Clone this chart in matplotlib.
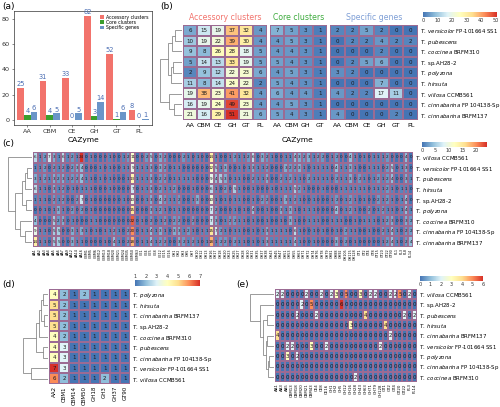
import numpy as np
import matplotlib
matplotlib.use("Agg")
import matplotlib.pyplot as plt
from matplotlib.colors import LinearSegmentedColormap, Normalize
import matplotlib.cm as cm

W, H = 500, 407
fig = plt.figure(figsize=(5, 4.07), dpi=100)

def rect(x0, y0, x1, y1):
    return [x0 / W, 1 - y1 / H, (x1 - x0) / W, (y1 - y0) / H]

def ftxt(x, y, s, **kw):
    fig.text(x / W, 1 - y / H, s, **kw)

cmap = LinearSegmentedColormap.from_list(
    "ph", ["#4575B4", "#91BFDB", "#E0F3F8", "#FFFFBF", "#FEE090", "#FC8D59", "#D73027"])
BORDER = "#9b6b93"
DCOL = "#8a8a8a"
LFS = 3.85

def italic_name(s):
    parts = s.split(" ")
    if parts[1].startswith("sp."):
        return r"$\mathit{T.}$ " + " ".join(parts[1:])
    rest = " ".join(parts[2:])
    lab = r"$\mathit{T.\ " + parts[1] + "}$"
    return lab + (" " + rest if rest else "")

# ---------------- panel (a) data ----------------
cats_a = ["AA", "CBM", "CE", "GH", "GT", "PL"]
accessory = [25, 31, 33, 82, 52, 8]
core = [4, 4, 0, 3, 1, 0]
specific = [6, 5, 5, 14, 6, 1]

# ---------------- panel (b) data ----------------
rows_b = ["T. versicolor FP-101664 SS1", "T. pubescens", "T. coccinea BRFM310",
          "T. sp.AH28-2", "T. polyzona", "T. hirsuta", "T. villosa CCMB561",
          "T. cinnabarina FP 104138-Sp", "T. cinnabarina BRFM137"]
cols_acc = ["AA", "CBM", "CE", "GH", "GT", "PL"]
cols_core = ["AA", "CBM", "GH", "GT"]
cols_spec = ["AA", "CBM", "CE", "GH", "GT", "PL"]
b_acc = [[6, 15, 19, 37, 32, 4], [10, 19, 22, 39, 30, 4], [9, 8, 26, 28, 18, 5],
         [5, 14, 13, 33, 19, 5], [2, 9, 12, 22, 23, 6], [11, 8, 14, 24, 22, 2],
         [19, 38, 23, 41, 32, 4], [16, 19, 24, 49, 23, 4], [21, 16, 29, 51, 21, 6]]
b_core = [[7, 5, 3, 1], [4, 5, 3, 1], [4, 4, 3, 1], [5, 4, 3, 1], [4, 5, 3, 1],
          [5, 4, 3, 1], [6, 4, 4, 1], [4, 5, 3, 1], [5, 4, 3, 1]]
b_spec = [[2, 2, 5, 2, 0, 0], [0, 2, 2, 4, 2, 2], [0, 0, 0, 2, 0, 0], [0, 2, 5, 6, 0, 0],
          [3, 2, 0, 0, 0, 0], [0, 0, 0, 7, 0, 0], [4, 2, 2, 17, 11, 0],
          [0, 0, 0, 0, 0, 0], [4, 0, 0, 0, 2, 0]]
tree_b = [(0, 1, 0.30), (9, 2, 0.45), (3, 4, 0.40), (11, 5, 0.50), (10, 12, 0.65),
          (7, 8, 0.35), (6, 14, 0.60), (13, 15, 1.00)]

# ---------------- panel (c) data ----------------
rows_c = ["T. villosa CCMB561", "T. versicolor FP-101664 SS1", "T. pubescens",
          "T. hirsuta", "T. sp.AH28-2", "T. polyzona", "T. coccinea BRFM310",
          "T. cinnabarina FP 104138-Sp", "T. cinnabarina BRFM137"]
cols_c = ["AA1", "AA2", "AA3", "AA4", "AA5", "AA6", "AA7", "AA9", "AA12", "AA14", "AA16",
          "CBM1", "CBM5", "CBM6", "CBM12", "CBM13", "CBM18", "CBM20", "CBM21", "CBM24",
          "CBM35", "CBM50", "CBM63", "CE1", "CE4", "CE5", "CE8", "CE12", "CE15", "CE16",
          "GH1", "GH2", "GH3", "GH5", "GH7", "GH10", "GH12", "GH13", "GH16", "GH17",
          "GH18", "GH20", "GH23", "GH25", "GH27", "GH28", "GH30", "GH31", "GH35", "GH37",
          "GH38", "GH43", "GH45", "GH47", "GH51", "GH53", "GH55", "GH63", "GH71", "GH72",
          "GH74", "GH76", "GH78", "GH79", "GH81", "GH88", "GH92", "GH105", "GH115", "GH128",
          "GT1", "GT2", "GT4", "GT8", "GT15", "GT20", "GT22", "GT90", "PL1", "PL3", "PL8", "PL14"]
c_villosa = [6, 1, 2, 7, 3, 1, 6, 1, 2, 1, 24, 0, 1, 0, 0, 0, 1, 0, 0, 1, 2, 11,
             0, 0, 2, 5, 0, 3, 2, 0, 0, 0, 2, 1, 0, 1, 0, 0, 14,
             1, 0, 0, 1, 2, 1, 1, 2, 6, 0, 3, 2, 1, 0, 0, 1, 1, 4, 3, 2, 3, 1, 2, 2, 0, 1, 2,
             0, 0, 4, 1, 0, 1, 0, 1, 1, 1, 2, 0, 0, 0, 4, 0]
c_versicolor = [1, 1, 2, 0, 2, 1, 2, 0, 2, 3, 4, 0, 0, 0, 1, 0, 1, 0, 0, 1, 1, 9,
                1, 1, 1, 3, 0, 3, 2, 0, 1, 1, 0, 0, 0, 0, 0, 0, 12,
                5, 1, 3, 0, 0, 1, 0, 1, 3, 1, 1, 2, 0, 0, 0, 3, 2, 2, 3, 1, 0, 1, 1, 1, 1, 0,
                4, 1, 1, 3, 1, 0, 0, 1, 1, 1, 0, 2, 5, 0, 1, 3, 0]
c_pubescens = [3, 1, 2, 1, 3, 2, 3, 1, 2, 2, 4, 1, 1, 0, 1, 0, 1, 0, 0, 0, 1, 13,
               1, 1, 1, 3, 0, 2, 2, 0, 1, 1, 1, 1, 1, 0, 0, 0, 9,
               4, 5, 3, 0, 1, 1, 0, 0, 2, 1, 1, 3, 0, 0, 2, 1, 2, 1, 1, 0, 2, 1, 1, 1, 1, 0,
               2, 1, 1, 3, 0, 2, 1, 0, 1, 2, 1, 2, 4, 0, 0, 3, 1]
c_hirsuta = [6, 1, 1, 0, 3, 1, 2, 0, 1, 0, 1, 1, 1, 0, 0, 0, 1, 0, 0, 0, 0, 7,
             0, 1, 1, 3, 0, 2, 1, 1, 2, 0, 0, 0, 1, 0, 0, 0, 6,
             1, 0, 2, 0, 5, 1, 0, 0, 1, 0, 0, 0, 1, 0, 1, 1, 1, 5, 2, 1, 0, 0, 0, 1, 0, 0,
             0, 1, 1, 1, 1, 1, 1, 0, 1, 1, 1, 2, 1, 0, 1, 1, 0]
c_sp = [1, 1, 1, 0, 2, 1, 2, 0, 0, 2, 7, 0, 1, 0, 0, 0, 0, 0, 0, 1, 0, 10,
        0, 0, 1, 3, 0, 4, 2, 1, 1, 2, 0, 0, 1, 3, 0, 0, 10,
        1, 0, 1, 0, 1, 1, 0, 0, 1, 0, 2, 2, 0, 0, 1, 3, 1, 2, 1, 0, 0, 1, 0, 0, 0, 1,
        2, 0, 1, 2, 1, 0, 1, 0, 0, 2, 1, 2, 1, 0, 1, 4, 0]
c_polyzona = [0, 0, 1, 0, 1, 3, 1, 0, 2, 0, 2, 0, 1, 0, 0, 0, 0, 0, 0, 0, 0, 15,
              0, 0, 0, 3, 1, 2, 1, 0, 1, 1, 0, 0, 0, 0, 0, 0, 7,
              2, 0, 0, 0, 1, 0, 1, 0, 4, 0, 0, 1, 0, 0, 3, 1, 3, 1, 0, 1, 1, 1, 0, 0, 0, 0,
              4, 0, 1, 2, 1, 0, 0, 2, 0, 1, 2, 1, 1, 0, 1, 4, 1]
c_coccinea = [4, 0, 0, 0, 5, 2, 3, 0, 1, 0, 0, 0, 1, 1, 0, 0, 0, 0, 0, 0, 0, 22,
              0, 1, 0, 2, 0, 1, 2, 0, 2, 2, 0, 0, 2, 0, 0, 0, 7,
              3, 0, 1, 2, 2, 1, 1, 0, 1, 0, 0, 1, 0, 0, 1, 0, 3, 1, 0, 0, 1, 1, 1, 0, 0, 1,
              1, 1, 0, 0, 1, 0, 1, 1, 1, 0, 1, 2, 3, 0, 0, 3, 2]
c_cinnFP = [9, 1, 1, 0, 5, 5, 0, 0, 3, 1, 3, 1, 0, 1, 0, 1, 1, 2, 1, 0, 2, 20,
            0, 1, 1, 4, 1, 3, 1, 0, 3, 3, 1, 2, 1, 0, 1, 1, 15,
            7, 2, 1, 0, 1, 1, 0, 0, 1, 0, 1, 3, 1, 1, 1, 1, 0, 6, 1, 0, 0, 1, 0, 1, 0, 0,
            1, 0, 2, 1, 1, 0, 0, 1, 0, 0, 2, 1, 4, 1, 0, 2, 2]
c_cinnBRFM = [14, 1, 1, 0, 5, 5, 0, 0, 3, 1, 1, 0, 0, 0, 0, 1, 0, 4, 1, 0, 2, 18,
              0, 1, 1, 4, 1, 2, 2, 0, 0, 3, 2, 1, 2, 1, 0, 1, 18,
              1, 2, 2, 0, 2, 1, 1, 0, 1, 0, 1, 3, 1, 1, 1, 1, 1, 4, 1, 0, 0, 1, 0, 0, 0, 0,
              3, 0, 2, 0, 1, 0, 0, 0, 0, 0, 1, 2, 4, 1, 0, 2, 4]
tree_c = [(1, 2, 0.20), (9, 3, 0.30), (4, 5, 0.25), (10, 11, 0.40), (7, 8, 0.30),
          (6, 13, 0.50), (12, 14, 0.70), (0, 15, 1.00)]

# ---------------- panel (d) data ----------------
rows_d = ["T. polyzona", "T. hirsuta", "T. cinnabarina BRFM137", "T. sp.AH28-2",
          "T. coccinea BRFM310", "T. pubescens", "T. cinnabarina FP 104138-Sp",
          "T. versicolor FP-101664 SS1", "T. villosa CCMB561"]
cols_d = ["AA2", "CBM1", "CBM14", "CBM50", "GH18", "GH3", "GH37", "GT90"]
d_vals = [[4, 2, 1, 2, 1, 1, 1, 1], [5, 2, 1, 1, 1, 1, 1, 1], [5, 2, 1, 1, 1, 1, 1, 1],
          [5, 2, 1, 1, 1, 1, 1, 1], [4, 2, 1, 1, 1, 1, 1, 1], [4, 3, 1, 1, 1, 1, 1, 1],
          [4, 3, 1, 1, 1, 1, 1, 1], [7, 3, 1, 1, 1, 1, 1, 1], [6, 2, 1, 1, 1, 2, 1, 1]]
tree_d = [(0, 1, 0.20), (2, 3, 0.15), (9, 10, 0.30), (11, 4, 0.35), (5, 6, 0.20),
          (12, 13, 0.50), (7, 8, 0.70), (14, 15, 1.00)]

# ---------------- panel (e) data ----------------
rows_e = ["T. villosa CCMB561", "T. sp.AH28-2", "T. pubescens", "T. hirsuta",
          "T. cinnabarina BRFM137", "T. versicolor FP-101664 SS1", "T. polyzona",
          "T. cinnabarina FP 104138-Sp", "T. coccinea BRFM310"]
cols_e = ["AA1", "AA3", "AA5", "CBM13", "CBM18", "CBM20", "CBM21", "CBM43", "CE4",
          "CE8", "CE16", "GH1", "GH2", "GH5", "GH12", "GH16", "GH28", "GH43", "GH63",
          "GH71", "GH79", "GH128", "GT1", "GT2", "GT4", "GT20", "GT22", "PL3", "PL14"]
e_villosa = [2, 2, 0, 0, 0, 0, 2, 0, 0, 2, 0, 2, 3, 0, 5, 0, 0, 3, 0, 2, 2, 0, 0, 2, 2, 5, 0, 2, 0]
e_sp = [0, 0, 0, 0, 0, 2, 0, 5, 0, 0, 0, 0, 0, 6, 0, 0, 0, 0, 0, 0, 0, 0, 0, 0, 0, 0, 0, 0, 0]
e_pubescens = [0, 0, 0, 0, 2, 0, 0, 0, 2, 0, 0, 0, 0, 0, 0, 0, 0, 0, 4, 0, 0, 0, 0, 0, 0, 0, 2, 0, 2]
e_hirsuta = [0, 0, 0, 0, 0, 0, 0, 0, 0, 0, 0, 0, 0, 0, 0, 3, 0, 0, 0, 0, 0, 0, 4, 0, 0, 0, 0, 0, 0]
e_cinnBRFM = [4, 0, 0, 0, 0, 0, 0, 0, 0, 0, 0, 0, 0, 0, 0, 0, 0, 0, 0, 0, 0, 0, 0, 2, 0, 0, 0, 0, 0]
e_versicolor = [0, 0, 2, 2, 0, 0, 0, 3, 0, 0, 2, 0, 0, 0, 0, 0, 0, 0, 0, 0, 0, 2, 0, 0, 0, 0, 0, 0, 0]
e_polyzona = [0, 0, 3, 0, 2, 0, 0, 0, 0, 0, 0, 0, 0, 0, 0, 0, 0, 0, 0, 0, 0, 0, 0, 0, 0, 0, 0, 0, 0]
e_cinnFP = [0] * 29
e_coccinea = [0, 0, 0, 0, 0, 0, 0, 0, 0, 0, 0, 0, 0, 0, 0, 0, 2, 0, 0, 0, 0, 0, 0, 0, 0, 0, 0, 0, 0]
tree_e = [(2, 3, 0.30), (4, 5, 0.30), (6, 7, 0.20), (11, 8, 0.25), (10, 12, 0.35),
          (9, 13, 0.45), (1, 14, 0.60), (0, 15, 1.00)]


# ---------------- helpers ----------------
def heat(ax, M, vmin, vmax, fs):
    M = np.asarray(M)
    nr, nc = M.shape
    ax.pcolormesh(np.arange(nc + 1), np.arange(nr + 1), M, cmap=cmap, vmin=vmin, vmax=vmax,
                  edgecolor=BORDER, linewidth=0.3)
    ax.set_xlim(0, nc)
    ax.set_ylim(nr, 0)
    for i in range(nr):
        for j in range(nc):
            ax.text(j + 0.5, i + 0.52, str(M[i, j]), ha="center", va="center",
                    fontsize=fs, color="#1a1a1a")
    ax.set_xticks([])
    ax.set_yticks([])
    for s in ax.spines.values():
        s.set_visible(False)


def dendro(ax, merges, n):
    pos = {i: (i + 0.5, 0.0) for i in range(n)}
    hmax = 0
    for k, (a, b, h) in enumerate(merges):
        ya, ha = pos[a]
        yb, hb = pos[b]
        ax.plot([ha, h, h, hb], [ya, ya, yb, yb], color=DCOL, lw=0.6,
                solid_joinstyle="miter")
        pos[n + k] = ((ya + yb) / 2, h)
        hmax = max(hmax, h)
    ax.set_ylim(n, 0)
    ax.set_xlim(hmax * 1.0, 0)
    ax.axis("off")


def cbar(x0, y0, x1, y1, vmin, vmax, ticks, labels_above=False):
    cax = fig.add_axes(rect(x0, y0, x1, y1))
    sm = cm.ScalarMappable(norm=Normalize(vmin, vmax), cmap=cmap)
    cb = fig.colorbar(sm, cax=cax, orientation="horizontal")
    cb.outline.set_visible(False)
    cb.set_ticks(ticks)
    cax.tick_params(length=0, labelsize=3.6, pad=1, colors="#333333")
    if labels_above:
        cax.xaxis.set_ticks_position("top")
    return cax


def row_labels(ax, names, fs):
    ax.set_yticks(np.arange(len(names)) + 0.5)
    ax.set_yticklabels([italic_name(s) for s in names], fontsize=fs)
    ax.yaxis.tick_right()
    ax.tick_params(axis="y", length=0, pad=1.5)


# ---------------- panel (a) ----------------
axa = fig.add_axes(rect(14, 11, 152, 125))
xa = np.arange(len(cats_a))
bw = 0.3
colors_a = ["#F2736C", "#3A9E2E", "#6A95C8"]
for off, vals, col, lab in [(-bw, accessory, colors_a[0], "Accessory clusters"),
                            (0, core, colors_a[1], "Core clusters"),
                            (bw, specific, colors_a[2], "Specific genes")]:
    axa.bar(xa + off, vals, width=bw, color=col, label=lab)
    for xi, v in zip(xa + off, vals):
        axa.text(xi, v + 0.6, str(v), ha="center", va="bottom", fontsize=4.8, color="#4A6DB3")
axa.set_xlim(-0.6, len(cats_a) - 0.4)
axa.set_ylim(-4.1, 86.1)
axa.set_xticks(xa)
axa.set_xticklabels(cats_a, fontsize=4.6)
axa.set_yticks([0, 20, 40, 60, 80])
axa.tick_params(labelsize=4.6, length=1.5, width=0.4, pad=1.5, colors="#333333")
axa.set_xlabel("CAZyme", fontsize=5.4, labelpad=2)
for s in axa.spines.values():
    s.set_linewidth(0.5)
    s.set_color("#333333")
axa.legend(loc="upper right", fontsize=3.3, frameon=False, handlelength=0.9, handleheight=0.9,
           borderaxespad=0.4, labelspacing=0.05, handletextpad=0.3)
ftxt(2, 2, "(a)", fontsize=6.5, va="top")

# ---------------- panel (b) ----------------
ftxt(160, 2, "(b)", fontsize=6.5, va="top")
bx = [(183, 267, b_acc, cols_acc, "Accessory clusters", "#F2736C"),
      (270, 327, b_core, cols_core, "Core clusters", "#3DAA3D"),
      (330, 418, b_spec, cols_spec, "Specific genes", "#7F9FD6")]
for i, (x0, x1, M, cl, title, tc) in enumerate(bx):
    ax = fig.add_axes(rect(x0, 25, x1, 120))
    heat(ax, M, 0, 51, 4.0)
    ax.set_xticks(np.arange(len(cl)) + 0.5)
    ax.set_xticklabels(cl, fontsize=4.6)
    ax.tick_params(axis="x", length=0, pad=2)
    ftxt((x0 + x1) / 2, 18, title, fontsize=5.6, color=tc, ha="center", va="center")
    if i == 2:
        row_labels(ax, rows_b, LFS)
ftxt(298, 140, "CAZyme", fontsize=5.4, ha="center", va="center")
axd = fig.add_axes(rect(160, 25, 182, 120))
dendro(axd, tree_b, 9)
cbar(423, 12, 497, 17, 0, 51, [0, 10, 20, 30, 40, 50])

# ---------------- panel (c) ----------------
ftxt(2, 139, "(c)", fontsize=6.5, va="top")
Mc = [c_villosa, c_versicolor, c_pubescens, c_hirsuta, c_sp, c_polyzona, c_coccinea,
      c_cinnFP, c_cinnBRFM]
axc = fig.add_axes(rect(33, 152, 413, 247))
heat(axc, Mc, 0, 24, 3.0)
axc.set_xticks(np.arange(len(cols_c)) + 0.5)
axc.set_xticklabels(cols_c, fontsize=2.4, rotation=90)
axc.tick_params(axis="x", length=0, pad=1)
row_labels(axc, rows_c, LFS)
axcd = fig.add_axes(rect(8, 152, 32, 247))
dendro(axcd, tree_c, 9)
cbar(422, 142, 487, 147, 0, 24, [0, 5, 10, 15, 20])

# ---------------- panel (d) ----------------
ftxt(2, 280, "(d)", fontsize=6.5, va="top")
axh = fig.add_axes(rect(49, 289, 130, 384))
heat(axh, d_vals, 1, 7, 4.0)
axh.set_xticks(np.arange(len(cols_d)) + 0.5)
axh.set_xticklabels(cols_d, fontsize=4.0, rotation=90)
axh.tick_params(axis="x", length=0, pad=1.5)
row_labels(axh, rows_d, LFS)
axdd = fig.add_axes(rect(23, 289, 48, 384))
dendro(axdd, tree_d, 9)
cbar(135, 280, 200, 286, 1, 7, [1, 2, 3, 4, 5, 6, 7], labels_above=True)

# ---------------- panel (e) ----------------
ftxt(236, 280, "(e)", fontsize=6.5, va="top")
Me = [e_villosa, e_sp, e_pubescens, e_hirsuta, e_cinnBRFM, e_versicolor, e_polyzona,
      e_cinnFP, e_coccinea]
axe = fig.add_axes(rect(275, 289, 417, 382))
heat(axe, Me, 0, 6, 4.0)
axe.set_xticks(np.arange(len(cols_e)) + 0.5)
axe.set_xticklabels(cols_e, fontsize=2.8, rotation=90)
axe.tick_params(axis="x", length=0, pad=1)
row_labels(axe, rows_e, LFS)
axed = fig.add_axes(rect(250, 289, 274, 382))
dendro(axed, tree_e, 9)
cbar(420, 276, 483, 281, 0, 6, [0, 1, 2, 3, 4, 5, 6])

fig.savefig("out.png", dpi=100, facecolor="white")
